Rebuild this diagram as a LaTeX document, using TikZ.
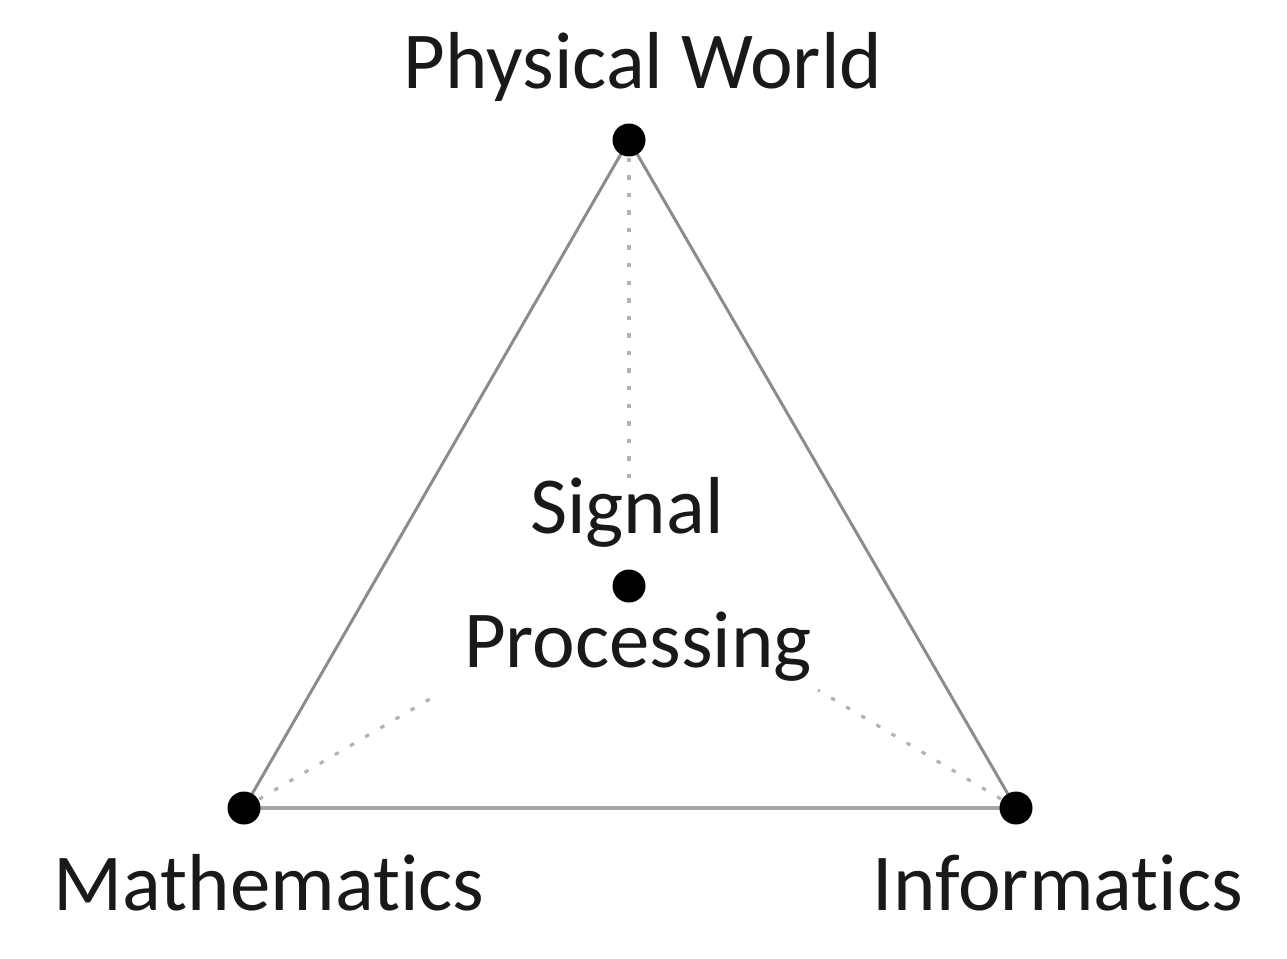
\documentclass[tikz,border=0pt]{standalone}
\usepackage{fontspec}
\setmainfont[Ligatures={NoCommon}]{Carlito}
\begin{document}
\begin{tikzpicture}[x=0.02cm,y=-0.02cm,
  lbl/.style={font=\fontsize{46}{52}\selectfont, text=black!90, inner sep=0pt, anchor=base},
  dot/.style={circle, fill=black, inner sep=0pt, minimum size=0.66cm},
  side/.style={draw=black!45, line width=1.7pt},
  base/.style={draw=black!35, line width=2.4pt},
  dots/.style={draw=black!30, line width=1.8pt, dash pattern=on 2.5pt off 7.5pt}]
\fill[white] (0,0) rectangle (1287,958);
\useasboundingbox (0,0) rectangle (1287,958);
\coordinate (P) at (629,140);
\coordinate (M) at (244,808);
\coordinate (I) at (1016,808);
\coordinate (C) at (629,586);
\coordinate (pend) at (629,480);
\coordinate (mend) at (440,693);
\coordinate (iend) at (818,690);
\draw[side] (P) -- (M);
\draw[side] (P) -- (I);
\draw[base] (M) -- (I);
\draw[dots] (P) -- (pend);
\draw[dots] (M) -- (mend);
\draw[dots] (I) -- (iend);
\node[dot] (dP) at (P) {};
\node[dot] (dM) at (M) {};
\node[dot] (dI) at (I) {};
\node[dot] (dC) at (C) {};
\node[lbl] (tP) at (643,88) {Physical World};
\node[lbl] (tS) at (627,533) {Signal};
\node[lbl] (tPr) at (638,667) {Processing};
\node[lbl] (tM) at (269,910) {Mathematics};
\node[lbl] (tI) at (1058,910) {Informatics};
\end{tikzpicture}
\end{document}
